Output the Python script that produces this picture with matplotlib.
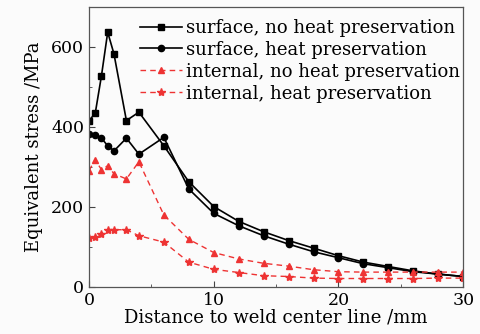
import numpy as np
import matplotlib
matplotlib.use('Agg')
import matplotlib.pyplot as plt
from matplotlib.ticker import MultipleLocator

plt.rcParams['font.family'] = ['DejaVu Serif']
plt.rcParams['mathtext.fontset'] = 'dejavuserif'

# --- DATA ---
x = [0, 0.5, 1, 1.5, 2, 3, 4, 6, 8, 10, 12, 14, 16, 18, 20, 22, 24, 26, 28, 30]
surf_no_heat = [416, 434, 528, 637, 583, 416, 437, 353, 263, 201, 164, 138, 116, 97, 78, 62, 51, 40, 32, 26]
surf_heat = [382, 380, 372, 353, 340, 372, 332, 374, 245, 184, 153, 128, 107, 88, 73, 58, 48, 38, 32, 26]
int_no_heat = [291, 318, 293, 303, 283, 270, 313, 180, 119, 86, 70, 59, 52, 43, 38, 37, 37, 37, 37, 37]
int_heat = [122, 126, 133, 143, 143, 143, 128, 112, 62, 44, 36, 28, 26, 22, 21, 21, 21, 21, 22, 22]
labels = ['surface, no heat preservation', 'surface, heat preservation',
          'internal, no heat preservation', 'internal, heat preservation']

red = '#ee3333'

fig = plt.figure(figsize=(4.81, 3.34), dpi=100)
fig.patch.set_facecolor('#fbfbfb')
ax = fig.add_axes([0.185, 0.141, 0.778, 0.838])
ax.set_facecolor('#fbfbfb')

ax.plot(x, surf_no_heat, '-s', color='black', lw=1.2, ms=4.5, label=labels[0])
ax.plot(x, surf_heat, '-o', color='black', lw=1.2, ms=4.5, label=labels[1])
ax.plot(x, int_no_heat, '--^', color=red, lw=1.0, ms=5, label=labels[2], dashes=(4, 3))
ax.plot(x, int_heat, '--*', color=red, lw=1.0, ms=6, label=labels[3], dashes=(4, 3))

ax.set_xlim(0, 30)
ax.set_ylim(0, 700)
ax.xaxis.set_major_locator(MultipleLocator(10))
ax.xaxis.set_minor_locator(MultipleLocator(5))
ax.yaxis.set_major_locator(MultipleLocator(200))
ax.yaxis.set_minor_locator(MultipleLocator(100))
ax.tick_params(which='both', direction='in', labelsize=12.5, color='#444')
ax.tick_params(which='major', length=4)
ax.tick_params(which='minor', length=2.5)
for s in ax.spines.values():
    s.set_color('#555')
    s.set_linewidth(0.9)

ax.set_xlabel('Distance to weld center line /mm', fontsize=13, labelpad=0)
ax.set_ylabel('Equivalent stress /MPa', fontsize=13, labelpad=6)

ax.legend(loc='upper right', frameon=False, fontsize=13, handlelength=2.3,
          labelspacing=0.22, borderaxespad=0.1, handletextpad=0.25,
          bbox_to_anchor=(1.016, 0.99))

plt.savefig('out.png', dpi=100, facecolor=fig.get_facecolor())
